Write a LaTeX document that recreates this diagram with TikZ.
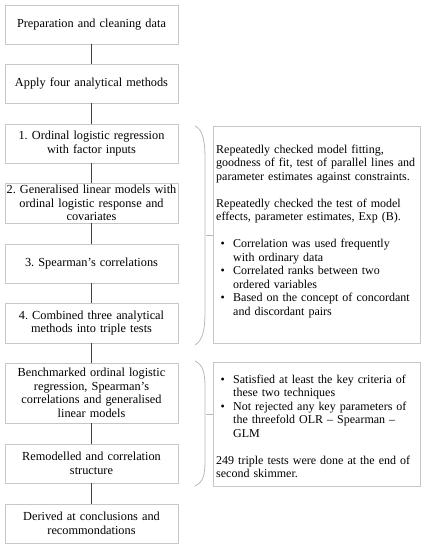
\documentclass[tikz,border=0pt]{standalone}
\usepackage{fontspec}
\setmainfont{Liberation Serif}
\hyphenpenalty=10000
\exhyphenpenalty=10000
\frenchspacing
\begin{document}
\begin{tikzpicture}[x=1pt,y=-1pt,
  lbox/.style={draw=black!22, line width=0.8pt, minimum width=173pt, inner xsep=0.5pt, inner ysep=0pt,
    align=center, text width=172pt, font={\fontsize{12.3}{13.5}\selectfont}},
  rbox/.style={draw=black!22, line width=0.8pt, anchor=north west, inner sep=0pt},
  rtext/.style={anchor=north west, inner sep=0pt, text width=204pt, align=left,
    font={\fontsize{12}{13.5}\selectfont}},
  conn/.style={draw=black!75, line width=1pt},
  brace/.style={draw=black!28, line width=0.8pt}]
\useasboundingbox (0,0) rectangle (426,550);
\newcommand{\bitem}[1]{\par\noindent\hangindent=17pt\hangafter=1\strut\hbox to 17pt{\hspace{4.5pt}•\hfil}#1\par}

\node[lbox, minimum height=39pt] (b1) at (91.5,24.5) {Preparation and cleaning data};
\node[lbox, minimum height=39pt] (b2) at (91.5,83.5) {Apply four analytical methods};
\node[lbox, minimum height=39pt] (b3) at (91.5,143.5) {1. Ordinal logistic regression\\with factor inputs};
\node[lbox, minimum height=40pt] (b4) at (91.5,203) {2. Generalised linear models with\\ordinal logistic response and\\covariates};
\node[lbox, minimum height=39pt] (b5) at (91.5,263.5) {3. Spearman’s correlations};
\node[lbox, minimum height=40pt] (b6) at (91.5,323) {4. Combined three analytical\\methods into triple tests};
\node[lbox, minimum height=60pt] (b7) at (91.5,393) {Benchmarked ordinal logistic\\regression, Spearman’s\\correlations and generalised\\linear models};
\node[lbox, minimum height=39pt] (b8) at (91.5,463.5) {Remodelled and correlation\\structure};
\node[lbox, minimum height=39pt] (b9) at (91.5,523.5) {Derived at conclusions and\\recommondations};

\draw[conn] (b1) -- (b2);
\draw[conn] (b2) -- (b3);
\draw[conn] (b3) -- (b4);
\draw[conn] (b4) -- (b5);
\draw[conn] (b5) -- (b6);
\draw[conn] (b6) -- (b7);
\draw[conn] (b7) -- (b8);
\draw[conn] (b8) -- (b9);

\node[rbox, minimum width=207pt, minimum height=217pt] (rA) at (213,126) {};
\node[rbox, minimum width=207pt, minimum height=124pt] (rB) at (213,362) {};

\node[rtext] (tA) at (216,143.5) {\strut Repeatedly checked model fitting,\newline goodness of fit, test of parallel lines and\newline parameter estimates against constraints.\par
\strut\par
\strut Repeatedly checked the test of model\newline effects, parameter estimates, Exp (B).\par
\strut\par
\bitem{Correlation was used frequently\newline with ordinary data}
\bitem{Correlated ranks between two\newline ordered variables}
\bitem{Based on the concept of concordant\newline and discordant pairs}};

\node[rtext] (tB) at (216,369.5) {\bitem{Satisfied at least the key criteria of\newline these two techniques}
\bitem{Not rejected any key parameters of\newline the threefold OLR – Spearman –\newline GLM}
\strut\par
\strut 249 triple tests were done at the end of\newline second skimmer.};

\coordinate (a1) at (195,126);
\coordinate (a2) at (195,345);
\coordinate (am) at (206,235);
\draw[brace] (a1) .. controls (203,130) and (205,140) .. (205,160) -- (205,310) .. controls (205,330) and (203,340) .. (a2);
\draw[brace] (am) -- (am -| rA.west);

\coordinate (c1) at (195,361);
\coordinate (c2) at (195,486);
\coordinate (cm) at (206,414);
\draw[brace] (c1) .. controls (203,365) and (205,372) .. (205,388) -- (205,460) .. controls (205,476) and (203,482) .. (c2);
\draw[brace] (cm) -- (cm -| rB.west);
\end{tikzpicture}
\end{document}
